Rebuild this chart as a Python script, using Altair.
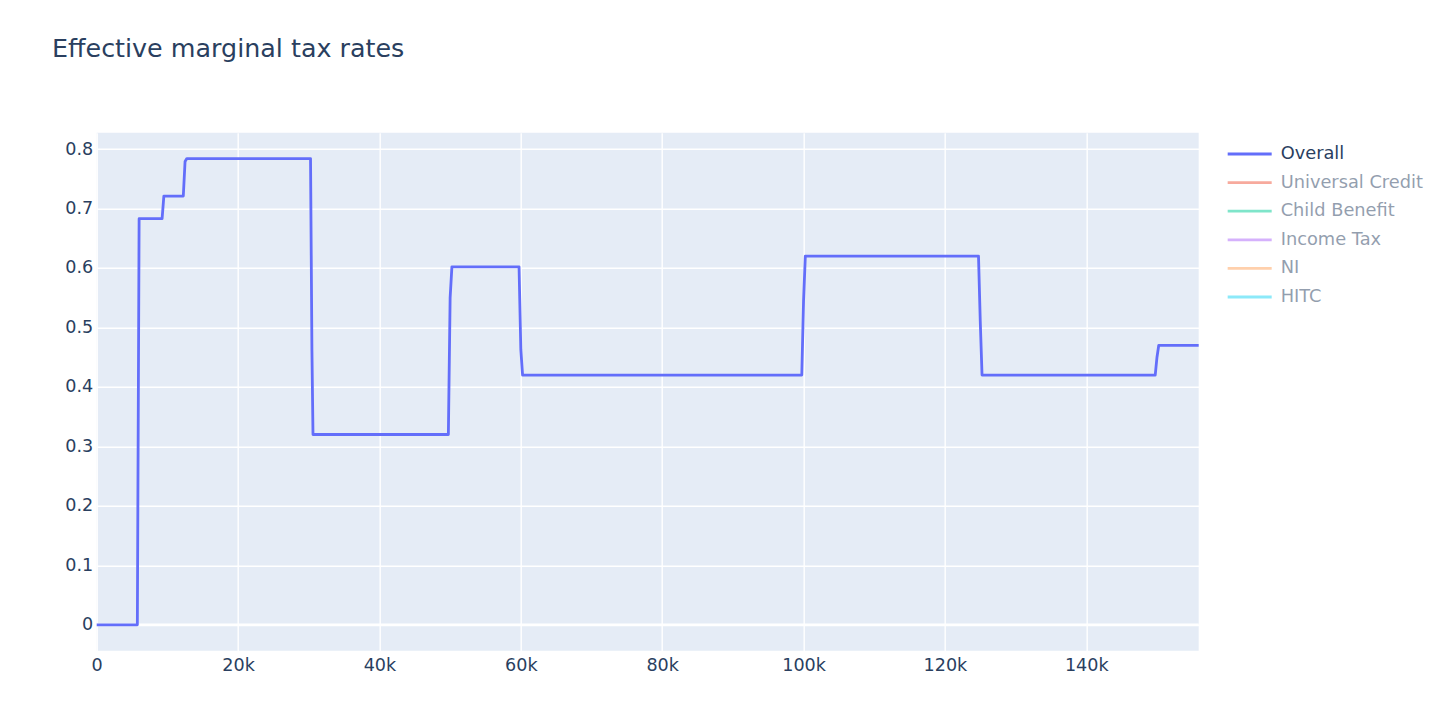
import altair as alt
import pandas as pd

# ---- data ----
income = [0, 5750, 6000, 9250, 9500, 12250, 12500, 12750, 30250, 30450, 30600,
          49750, 50000, 50250, 59750, 60000, 60250, 99750, 100000, 100250,
          124750, 125000, 125250, 149750, 150000, 150250, 155900]
overall = [0, 0, 0.683, 0.683, 0.721, 0.721, 0.779, 0.784, 0.784, 0.46, 0.32,
           0.32, 0.55, 0.602, 0.602, 0.463, 0.42, 0.42, 0.545, 0.62,
           0.62, 0.51, 0.42, 0.42, 0.45, 0.47, 0.47]

series_names = ["Overall", "Universal Credit", "Child Benefit", "Income Tax", "NI", "HITC"]
series_shown = [True, False, False, False, False, False]
series_colors = ["#636efa", "#EF553B", "#00cc96", "#ab63fa", "#FFA15A", "#19d3f3"]

x_ticks = [0, 20000, 40000, 60000, 80000, 100000, 120000, 140000]
y_ticks = [0, 0.1, 0.2, 0.3, 0.4, 0.5, 0.6, 0.7, 0.8]

FONT = "DejaVu Sans"
TXT = "#2a3f5f"
YDOM = [-0.0435, 0.8275]

df = pd.DataFrame({"income": income, "rate": overall})
zero_df = pd.DataFrame({"z": [0]})
leg_df = pd.DataFrame({"name": series_names, "shown": series_shown, "color": series_colors})

x_enc = alt.X("income:Q",
              scale=alt.Scale(domain=[0, 155900], nice=False, zero=False),
              axis=alt.Axis(values=x_ticks, title=None, labelPadding=6, labelFlush=False,
                            labelExpr="datum.value == 0 ? '0' : format(datum.value / 1000, 'd') + 'k'"))
y_enc = alt.Y("rate:Q",
              scale=alt.Scale(domain=YDOM, nice=False, zero=False),
              axis=alt.Axis(values=y_ticks, title=None, labelPadding=4, minExtent=44.7,
                            labelFlush=False,
                            labelExpr="datum.value == 0 ? '0' : format(datum.value, '.1f')"))

line = alt.Chart(df).mark_line(color="#636efa", strokeWidth=2.8, strokeJoin="round").encode(
    x=x_enc, y=y_enc
)
zero_rule = alt.Chart(zero_df).mark_rule(color="white", strokeWidth=2.8).encode(
    y=alt.Y("z:Q")
)
main = alt.layer(zero_rule, line).properties(
    width=1102, height=518,
    view=alt.ViewBackground(fill="#e5ecf6", stroke=None),
)

leg_y = alt.Y("name:N", sort=series_names, axis=None,
              scale=alt.Scale(type="point", range=[21.3, 164.3], padding=0))
op = alt.condition("datum.shown", alt.value(1), alt.value(0.5))
leg_rules = alt.Chart(leg_df).mark_rule(strokeWidth=2.8).encode(
    y=leg_y, x=alt.value(0), x2=alt.value(44),
    color=alt.Color("color:N", scale=None), opacity=op,
)
leg_text = alt.Chart(leg_df).mark_text(align="left", baseline="middle", font=FONT,
                                       fontSize=17.8, color=TXT).encode(
    y=leg_y, x=alt.value(53), text="name:N", opacity=op,
)
legend = alt.layer(leg_rules, leg_text).properties(
    width=150, height=518,
    view=alt.ViewBackground(fill=None, stroke=None),
)

chart = alt.hconcat(main, legend, spacing=25).properties(
    title=alt.TitleParams("Effective marginal tax rates", anchor="start", frame="bounds",
                          font=FONT, fontSize=25.4, fontWeight="normal", color=TXT,
                          offset=70),
    padding={"left": 43.7, "top": 28.7, "right": 5, "bottom": 5},
).configure_axis(
    grid=True, gridColor="white", gridWidth=1.4, domain=False, ticks=False,
    labelFont=FONT, labelFontSize=17.6, labelColor=TXT,
).configure_view(stroke=None)

chart.save("out.html", embed_options={"renderer": "svg", "actions": False})
